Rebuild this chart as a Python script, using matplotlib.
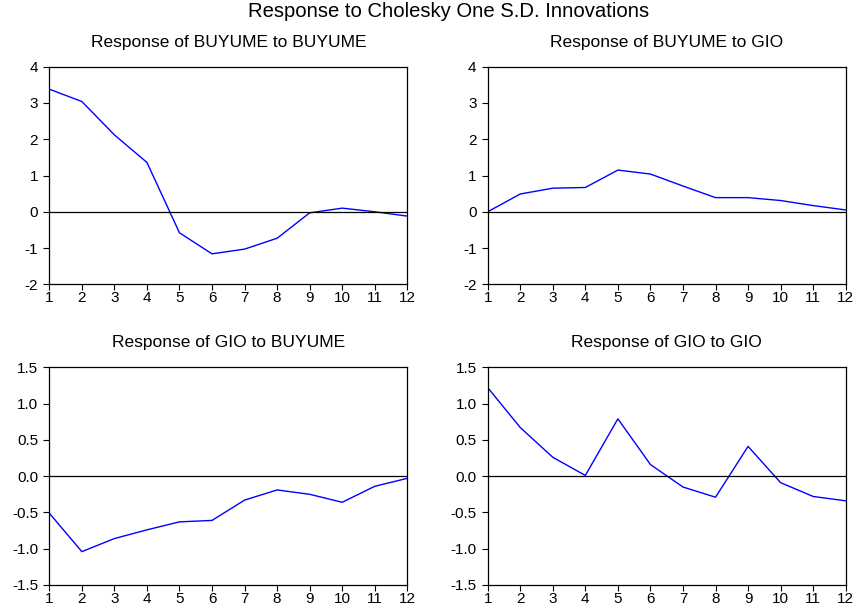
"""Impulse responses (Cholesky one S.D.) for BUYUME and GIO, 2x2 panel."""
import matplotlib
matplotlib.use("Agg"); import matplotlib.pyplot as plt

plt.rcParams['font.family'] = ['Liberation Sans', 'DejaVu Sans']

periods = list(range(1, 13))
buyume_to_buyume = [3.38, 3.04, 2.12, 1.36, -0.58, -1.16, -1.03, -0.73, -0.03, 0.10, 0.00, -0.12]
buyume_to_gio = [0.00, 0.49, 0.65, 0.67, 1.15, 1.04, 0.71, 0.39, 0.39, 0.31, 0.17, 0.05]
gio_to_buyume = [-0.51, -1.04, -0.86, -0.74, -0.63, -0.61, -0.33, -0.19, -0.25, -0.36, -0.14, -0.03]
gio_to_gio = [1.22, 0.67, 0.26, 0.01, 0.79, 0.16, -0.15, -0.29, 0.41, -0.09, -0.28, -0.34]

titles = ['Response of BUYUME to BUYUME', 'Response of BUYUME to GIO',
          'Response of GIO to BUYUME', 'Response of GIO to GIO']
series = [buyume_to_buyume, buyume_to_gio, gio_to_buyume, gio_to_gio]
yticks_top = [-2, -1, 0, 1, 2, 3, 4]
yticks_bot = [-1.5, -1.0, -0.5, 0.0, 0.5, 1.0, 1.5]

W, H = 857, 610
fig = plt.figure(figsize=(W/100, H/100), dpi=100)
# axes boxes in pixels: left, top, right, bottom
boxes = [(49.3, 66.7, 407.3, 284.3), (487.7, 66.7, 845.7, 284.3),
         (49.3, 367.3, 407.3, 585.0), (487.7, 367.3, 845.7, 585.0)]

for i, (l, t, r, b) in enumerate(boxes):
    ax = fig.add_axes([l/W, 1-b/H, (r-l)/W, (b-t)/H])
    ax.plot(periods, series[i], color='#0000ff', lw=1.0)
    ax.axhline(0, color='black', lw=0.9)
    ax.set_xlim(1, 12)
    ax.set_xticks(periods)
    if i < 2:
        ax.set_ylim(-2, 4); ax.set_yticks(yticks_top)
        ax.set_yticklabels([str(v) for v in yticks_top])
    else:
        ax.set_ylim(-1.5, 1.5); ax.set_yticks(yticks_bot)
        ax.set_yticklabels([f"{v:.1f}" for v in yticks_bot])
    ax.set_title(titles[i], fontsize=12.5, pad=14.4)
    ax.tick_params(direction='out', length=4, width=0.8, labelsize=11)
    ax.tick_params(axis='y', pad=4)
    ax.tick_params(axis='x', pad=1)
    for s in ax.spines.values():
        s.set_linewidth(0.9)

# the main title sits a little right of centre in the original
fig.suptitle('Response to Cholesky One S.D. Innovations', fontsize=14.6,
             x=449/W, y=1-17/H, va='baseline')
plt.savefig("out.png", dpi=100)
